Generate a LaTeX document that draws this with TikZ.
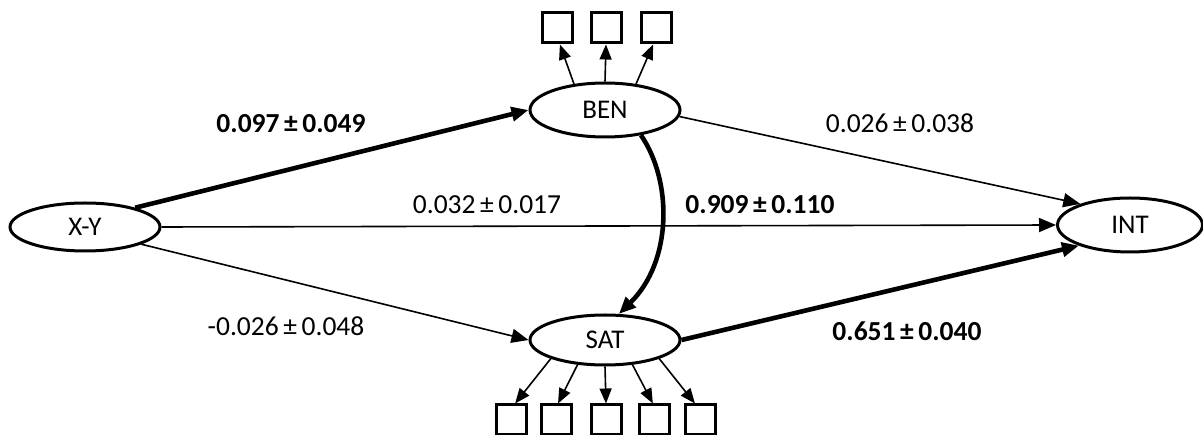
\documentclass[tikz,border=0pt]{standalone}
\usepackage{fontspec}
\setmainfont{Carlito}
\usetikzlibrary{shapes.geometric,arrows.meta}
\begin{document}
\begin{tikzpicture}[x=1pt,y=-1pt,
  latent/.style={ellipse,draw,line width=3pt,minimum width=150pt,minimum height=52pt,inner sep=0pt,font=\fontsize{27}{31}\selectfont},
  indic/.style={draw,line width=3pt,minimum size=30pt,inner sep=0pt},
  thinarr/.style={line width=1.6pt,-{Triangle[length=17pt,width=14pt]}},
  thickarr/.style={line width=4.6pt,-{Triangle[length=17pt,width=14pt]}},
  smallarr/.style={line width=1.6pt,-{Triangle[length=15pt,width=12pt]}},
  lab/.style={font=\fontsize{27.5}{31}\selectfont,inner sep=0pt},
  blab/.style={font=\fontsize{27.5}{31}\selectfont\bfseries,inner sep=0pt}]
\useasboundingbox (0,0) rectangle (1203,435);
\node[latent,minimum height=48pt] (XY) at (85,227) {X-Y};
\node[latent,minimum height=54pt] (BEN) at (605,110) {BEN};
\node[latent,minimum height=50pt] (SAT) at (605,340) {SAT};
\node[latent,minimum width=145pt,minimum height=54pt] (INT) at (1130,225) {INT};
% indicator boxes
\node[indic] (b1) at (557,28) {};
\node[indic] (b2) at (606,28) {};
\node[indic] (b3) at (656,28) {};
\node[indic] (s1) at (511,420) {};
\node[indic] (s2) at (556,420) {};
\node[indic] (s3) at (606,420) {};
\node[indic] (s4) at (654,420) {};
\node[indic] (s5) at (700,420) {};
\draw[smallarr] (BEN.140) -- (b1.-80);
\draw[smallarr] (BEN.north) -- (b2.south);
\draw[smallarr] (BEN.40) -- (b3.-100);
\draw[smallarr] (SAT.-161) -- (s1.76);
\draw[smallarr] (SAT.-138) -- (s2.83);
\draw[smallarr] (SAT.south) -- (s3.north);
\draw[smallarr] (SAT.-42) -- (s4.94);
\draw[smallarr] (SAT.-19) -- (s5.107);
% paths
\draw[thickarr] (XY.21) -- (BEN.west);
\draw[thinarr] (BEN.-5) -- (INT.157);
\draw[thinarr] (XY.east) -- (INT.west);
\draw[thinarr] (XY.-17) -- (SAT.west);
\draw[thickarr] (SAT.east) -- (INT.-158);
\draw[thickarr] (BEN.-35) .. controls (673,182) and (672,262) .. (SAT.62);
% labels
\node[blab] (l1) at (291,124) {0.097\,±\,0.049};
\node[lab] (l2) at (900,123) {0.026\,±\,0.038};
\node[lab] (l3) at (487,205) {0.032\,±\,0.017};
\node[blab] (l4) at (760,205) {0.909\,±\,0.110};
\node[lab] (l5) at (286,326) {-0.026\,±\,0.048};
\node[blab] (l6) at (907,331) {0.651\,±\,0.040};
\end{tikzpicture}
\end{document}
